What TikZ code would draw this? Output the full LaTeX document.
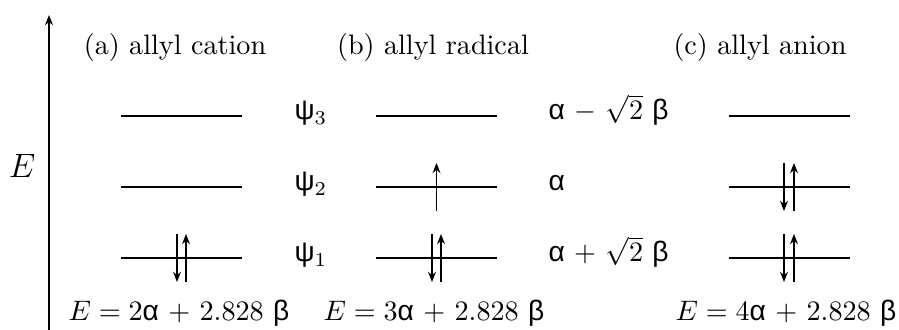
\documentclass[tikz,border=0pt]{standalone}
\usepackage{fontspec}
\usepackage{xcolor}
\usepackage{tikz}
\usetikzlibrary{arrows.meta,positioning,calc}
%% upright Greek, as the figure prints it
\newfontfamily\grk{Liberation Sans}

\begin{document}
\begin{tikzpicture}[
      x=0.355pt, y=0.355pt,
      font=\normalsize,
      ttl/.style={anchor=base},
      lvl/.style={line width=0.75pt},
      spin/.style={line width=0.7pt, -{Stealth[length=3.6pt,width=2.8pt]}},
      orb/.style={anchor=base west, inner sep=0pt},
      tot/.style={anchor=base}]
    \useasboundingbox (0,0) rectangle (899,330);

    %% ---- energy axis ----
    \coordinate (ax0) at (49,0);
    \coordinate (ax1) at (49,315);
    \draw[line width=0.7pt, -{Stealth[length=3.6pt,width=2.8pt]}] (ax0) -- (ax1);
    \node (eax) at (22,164) {\large $E$};

    %% ---- column titles ----
    \node[ttl] (ta) at (175,275) {(a) allyl cation};
    \node[ttl] (tb) at (433,275) {(b) allyl radical};
    \node[ttl] (tc) at (760,275) {(c) allyl anion};

    %% ---- levels: one line per orbital and column; (a1) is psi_1 of the cation
    \foreach \c/\x in {a/181.5,b/436.5,c/789}
      \foreach \l/\y in {1/72,2/143,3/214} {
        \coordinate (\c\l) at (\x,\y);
        \draw[lvl] ($(\c\l)+(-60.5,0)$) -- ($(\c\l)+(60.5,0)$);
      }

    %% ---- orbital names and energies, between the columns ----
    \node[orb] (p3) at (294,210) {{\grk ψ}$_3$};
    \node[orb] (p2) at (294,139) {{\grk ψ}$_2$};
    \node[orb] (p1) at (294,68)  {{\grk ψ}$_1$};
    \node[orb] (e3) at (548,210) {{\grk α} $-$ $\sqrt{2}$ {\grk β}};
    \node[orb] (e2) at (548,139) {{\grk α}};
    \node[orb] (e1) at (548,68)  {{\grk α} $+$ $\sqrt{2}$ {\grk β}};

    %% ---- electrons ----
    %% cation: psi_1 filled
    \draw[spin] ($(a1)+(4.5,-24)$) -- ($(a1)+(4.5,24)$);
    \draw[spin] ($(a1)+(-4.5,24)$) -- ($(a1)+(-4.5,-24)$);
    %% radical: psi_1 filled, one electron in psi_2
    \draw[spin] ($(b1)+(4.5,-24)$) -- ($(b1)+(4.5,24)$);
    \draw[spin] ($(b1)+(-4.5,24)$) -- ($(b1)+(-4.5,-24)$);
    \draw[spin] ($(b2)+(0,-24)$) -- ($(b2)+(0,24)$);
    %% anion: psi_1 and psi_2 filled
    \draw[spin] ($(c1)+(5,-24)$) -- ($(c1)+(5,24)$);
    \draw[spin] ($(c1)+(-5,24)$) -- ($(c1)+(-5,-24)$);
    \draw[spin] ($(c2)+(5,-24)$) -- ($(c2)+(5,24)$);
    \draw[spin] ($(c2)+(-5,24)$) -- ($(c2)+(-5,-24)$);

    %% ---- total pi energies ----
    \node[tot] (sa) at (179,9) {$E = 2${\grk α} $+$ $2.828$ {\grk β}};
    \node[tot] (sb) at (434,9) {$E = 3${\grk α} $+$ $2.828$ {\grk β}};
    \node[tot] (sc) at (786,9) {$E = 4${\grk α} $+$ $2.828$ {\grk β}};
  \end{tikzpicture}
\end{document}
